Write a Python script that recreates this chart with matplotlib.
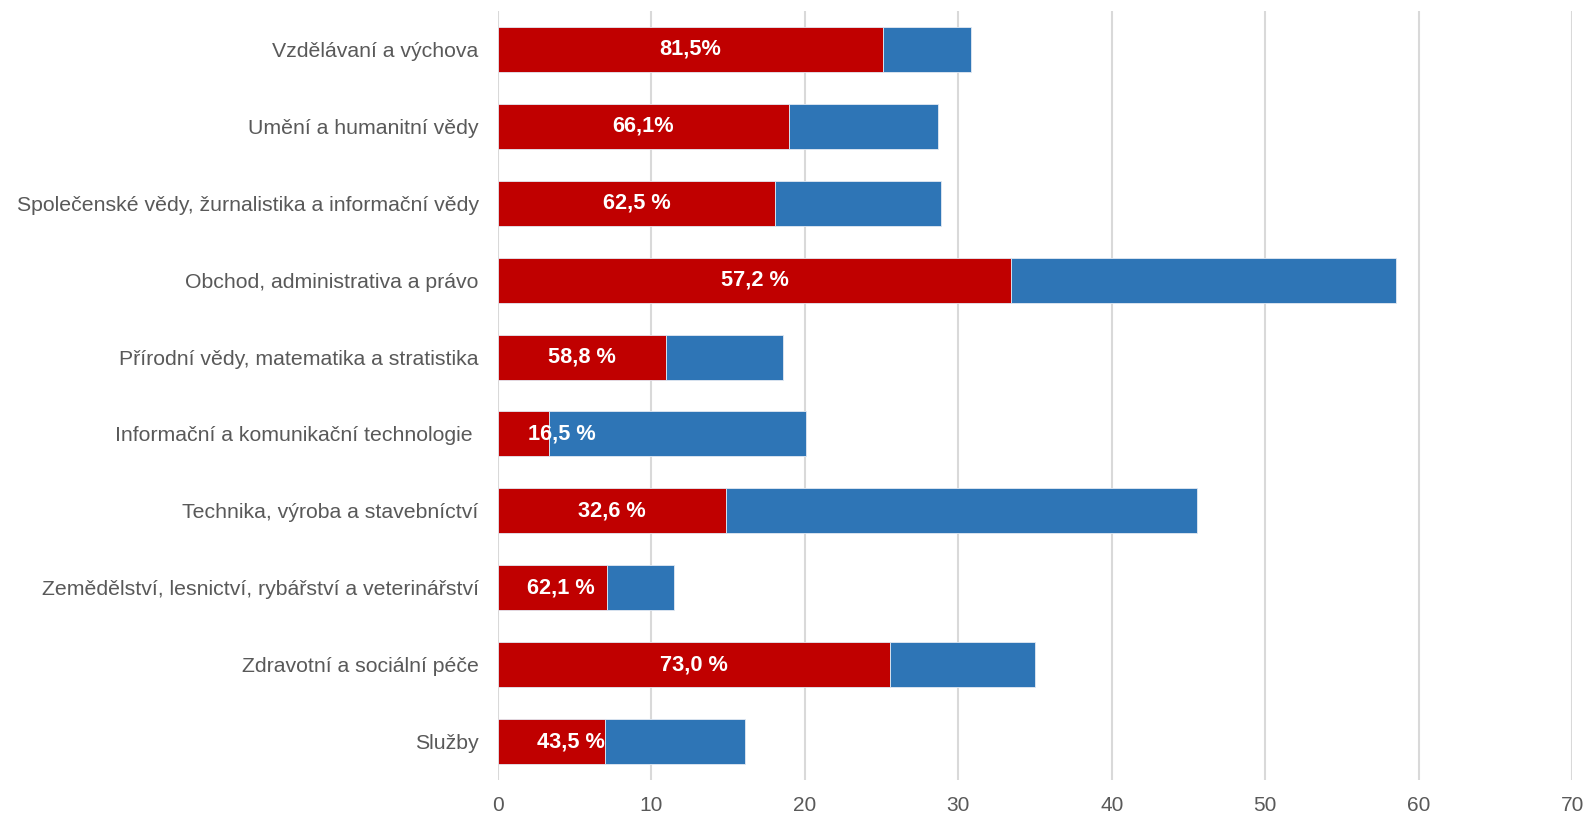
import matplotlib
matplotlib.use("Agg")
import matplotlib.pyplot as plt
import numpy as np

plt.rcParams['font.family'] = ['Liberation Sans', 'DejaVu Sans']

# Fields of education, top to bottom
categories = [
    "Vzdělávaní a výchova",
    "Umění a humanitní vědy",
    "Společenské vědy, žurnalistika a informační vědy",
    "Obchod, administrativa a právo",
    "Přírodní vědy, matematika a stratistika",
    "Informační a komunikační technologie ",
    "Technika, výroba a stavebníctví",
    "Zemědělství, lesnictví, rybářství a veterinářství",
    "Zdravotní a sociální péče",
    "Služby",
]

# Total number of graduates per field
totals = [30.8, 28.7, 28.9, 58.5, 18.6, 20.05, 45.55, 11.45, 35.0, 16.1]

# Share of women (%)
women_share = [81.5, 66.1, 62.5, 57.2, 58.8, 16.5, 32.6, 62.1, 73.0, 43.5]

# Label texts as printed on the bars
share_labels = ["81,5%", "66,1%", "62,5 %", "57,2 %", "58,8 %",
                "16,5 %", "32,6 %", "62,1 %", "73,0 %", "43,5 %"]

x_ticks = [0, 10, 20, 30, 40, 50, 60, 70]

totals_arr = np.array(totals)
women = totals_arr * np.array(women_share) / 100.0
men = totals_arr - women

RED = "#C00000"
BLUE = "#2E75B6"
GRID = "#D9D9D9"
TEXT = "#595959"

fig = plt.figure(figsize=(15.83, 8.15), dpi=100)
ax = fig.add_axes([0.3146, 0.0429, 0.9931 - 0.3146, 0.9865 - 0.0429])

y = np.arange(len(categories))
bar_h = 0.585
ax.barh(y, women, height=bar_h, color=RED, edgecolor="#e3e9f2", linewidth=0.6, zorder=3)
ax.barh(y, men, left=women, height=bar_h, color=BLUE, edgecolor="#e3e9f2", linewidth=0.6, zorder=3)

# horizontal nudges (points) for labels on short segments
nudge = {5: 28, 7: 6, 9: 13.7}
for i, (w, lab) in enumerate(zip(women, share_labels)):
    ax.annotate(lab, xy=(w / 2, i), xytext=(nudge.get(i, 0), 0),
                textcoords="offset points", ha="center", va="center",
                color="white", fontsize=15.7, fontweight="bold", zorder=4)

ax.set_xlim(0, 70)
ax.set_ylim(len(categories) - 0.5, -0.5)
ax.set_xticks(x_ticks)
ax.set_xticklabels([str(t) for t in x_ticks])
ax.set_yticks(y)
ax.set_yticklabels(categories)

ax.grid(axis="x", color=GRID, linewidth=1.5, zorder=0)
ax.set_axisbelow(True)
for s in ax.spines.values():
    s.set_visible(False)
ax.tick_params(axis="both", length=0, colors=TEXT)
ax.tick_params(axis="y", pad=14, labelsize=15.3)
ax.tick_params(axis="x", pad=11.5, labelsize=15)

fig.savefig("out.png", dpi=100)
